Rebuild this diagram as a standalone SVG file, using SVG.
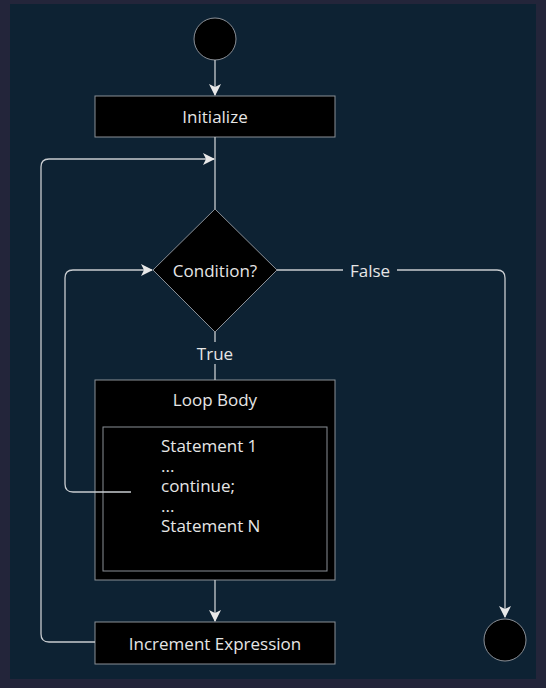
<svg xmlns="http://www.w3.org/2000/svg" width="546" height="688" viewBox="0 0 546 688">
<style>
.node{fill:#000;stroke:#8a8f96;stroke-width:1}
.t{font-family:"Open Sans","Noto Sans","DejaVu Sans",sans-serif;font-size:17px;fill:#e6e6e6}
.c{text-anchor:middle;dominant-baseline:central}
.e{fill:none;stroke:#c8ccd0;stroke-width:1.3}
</style>
<defs>
<marker id="ah" viewBox="0 0 12 12" refX="11" refY="6" markerWidth="12" markerHeight="12" markerUnits="userSpaceOnUse" orient="auto">
<path d="M0,0 L12,6 L0,12 L3,6 z" fill="#e8e8e8"/>
</marker>
</defs>
<rect width="546" height="688" fill="#23253a"/>
<rect x="10" y="4" width="526" height="675" fill="#0d2233"/>
<g id="start"><circle class="node" cx="215" cy="39" r="21"/></g>
<g id="init"><rect class="node" x="95" y="96" width="240" height="41"/><text class="t c" x="215" y="116">Initialize</text></g>
<g id="cond"><path class="node" d="M215,209 L277,270 L215,332 L153,270 z"/><text class="t c" x="215" y="270">Condition?</text></g>
<g id="body">
<rect class="node" x="95" y="380" width="240" height="200"/>
<text class="t c" x="215" y="399">Loop Body</text>
<rect class="node" x="103" y="427" width="224" height="144"/>
<text class="t" x="161" y="452">Statement 1</text>
<text class="t" x="161" y="472">...</text>
<text class="t" x="161" y="492">continue;</text>
<text class="t" x="161" y="512">...</text>
<text class="t" x="161" y="532">Statement N</text>
</g>
<g id="incr"><rect class="node" x="95" y="622" width="240" height="42"/><text class="t c" x="215" y="643">Increment Expression</text></g>
<g id="end"><circle class="node" cx="505" cy="640" r="21"/></g>
<g id="connectors">
<path class="e" d="M215,60 V95" marker-end="url(#ah)"/>
<path class="e" d="M215,137 V209"/>
<path class="e" d="M95,642 H49 Q41,642 41,634 V167 Q41,159 49,159 H214" marker-end="url(#ah)"/>
<path class="e" d="M131,492 H73 Q65,492 65,484 V278 Q65,270 73,270 H152" marker-end="url(#ah)"/>
<path class="e" d="M277,270 H343"/>
<path class="e" d="M397,270 H497 Q505,270 505,278 V617" marker-end="url(#ah)"/>
<path class="e" d="M215,332 V342"/>
<path class="e" d="M215,364 V380"/>
<path class="e" d="M215,580 V621" marker-end="url(#ah)"/>
<text class="t c" x="370" y="270">False</text>
<text class="t c" x="215" y="353">True</text>
</g>
</svg>
